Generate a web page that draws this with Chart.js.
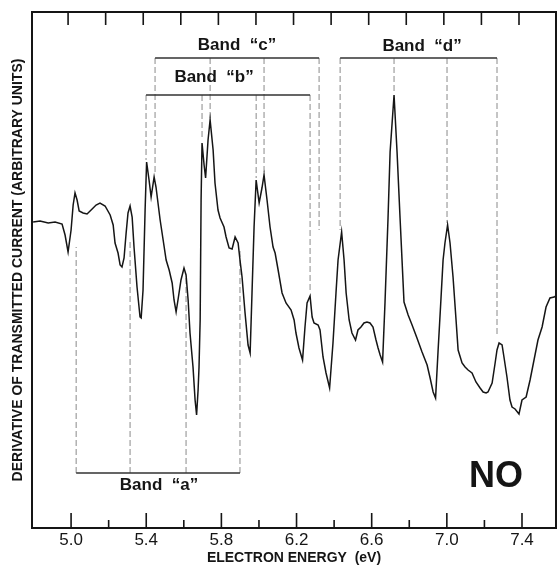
<!DOCTYPE html>
<html>
<head>
<meta charset="utf-8">
<script src="https://cdn.jsdelivr.net/npm/chart.js@4/dist/chart.umd.min.js"></script>
<style>
  html, body { margin: 0; padding: 0; background: #fff; }
</style>
</head>
<body>
<canvas id="noChart" width="557" height="565"></canvas>
<script>
// electron energy (eV) and derivative signal (arbitrary units)
const energy = [
  4.798, 4.835, 4.878, 4.915, 4.952, 4.968, 4.984, 5.000, 5.011, 5.021,
  5.032, 5.043, 5.064, 5.085, 5.112, 5.133, 5.154, 5.181, 5.208, 5.224,
  5.234, 5.250, 5.261, 5.271, 5.282, 5.293, 5.303, 5.314, 5.325, 5.335,
  5.351, 5.367, 5.373, 5.383, 5.394, 5.402, 5.415, 5.426, 5.442, 5.452,
  5.474, 5.490, 5.506, 5.522, 5.538, 5.548, 5.559, 5.569, 5.585, 5.601,
  5.612, 5.623, 5.633, 5.649, 5.660, 5.668, 5.676, 5.681, 5.687, 5.692,
  5.697, 5.708, 5.716, 5.729, 5.740, 5.756, 5.766, 5.782, 5.793, 5.814,
  5.825, 5.841, 5.857, 5.873, 5.889, 5.899, 5.910, 5.926, 5.942, 5.953,
  5.963, 5.974, 5.985, 6.001, 6.016, 6.027, 6.043, 6.059, 6.075, 6.086,
  6.102, 6.123, 6.144, 6.171, 6.187, 6.197, 6.213, 6.232, 6.245, 6.256,
  6.272, 6.283, 6.293, 6.315, 6.325, 6.341, 6.357, 6.376, 6.394, 6.410,
  6.421, 6.440, 6.453, 6.464, 6.480, 6.495, 6.514, 6.527, 6.543, 6.559,
  6.575, 6.591, 6.607, 6.623, 6.634, 6.645, 6.658, 6.671, 6.687, 6.698,
  6.719, 6.735, 6.751, 6.772, 6.794, 6.815, 6.841, 6.868, 6.895, 6.911,
  6.927, 6.940, 6.953, 6.969, 6.980, 6.990, 7.004, 7.017, 7.033, 7.049,
  7.060, 7.081, 7.097, 7.113, 7.134, 7.155, 7.177, 7.193, 7.209, 7.219,
  7.241, 7.257, 7.267, 7.278, 7.294, 7.304, 7.320, 7.336, 7.347, 7.363,
  7.384, 7.400, 7.422, 7.443, 7.464, 7.485, 7.507, 7.528, 7.549, 7.571,
  7.587
];
const signal = [
  306, 307, 305, 306, 304, 293, 276, 298, 323, 335,
  328, 317, 315, 314, 319, 323, 325, 322, 313, 303,
  285, 275, 263, 261, 270, 295, 315, 322, 311, 281,
  241, 211, 210, 238, 318, 366, 348, 331, 351, 341,
  308, 288, 268, 258, 245, 228, 216, 228, 248, 260,
  253, 228, 195, 161, 128, 113, 138, 161, 208, 328,
  385, 363, 350, 388, 408, 378, 345, 318, 310, 301,
  291, 280, 279, 291, 285, 268, 251, 215, 183, 175,
  235, 301, 348, 325, 340, 353, 328, 301, 281, 275,
  258, 235, 225, 218, 208, 195, 180, 168, 201, 225,
  232, 211, 205, 203, 198, 171, 155, 140, 185, 235,
  268, 296, 268, 235, 208, 195, 188, 198, 201, 205,
  206, 205, 201, 188, 180, 173, 166, 226, 310, 376,
  433, 376, 310, 226, 213, 203, 190, 176, 163, 150,
  136, 130, 176, 230, 268, 285, 303, 285, 251, 208,
  178, 165, 161, 158, 155, 146, 140, 136, 135, 136,
  145, 165, 178, 185, 183, 171, 151, 128, 121, 119,
  114, 128, 131, 148, 168, 188, 201, 221, 230, 231,
  233
];

const majorTicks = [5.0, 5.4, 5.8, 6.2, 6.6, 7.0, 7.4];
const minorTicks = [5.2, 5.6, 6.0, 6.4, 6.8, 7.2];
const topTicks = [5.0, 5.2, 5.4, 5.6, 5.8, 6.0, 6.2, 6.4, 6.6, 6.8, 7.0, 7.2, 7.4];

// band brackets: level of the bar, energies of the marks, how far each mark reaches
const bandNames = ['Band  \u201ca\u201d', 'Band  \u201cb\u201d', 'Band  \u201cc\u201d', 'Band  \u201cd\u201d'];
const bandLevel = [55, 433, 470, 470];
const bandMarks = [
  [5.027, 5.314, 5.612, 5.899],
  [5.399, 5.697, 5.985, 6.272],
  [5.447, 5.740, 6.027, 6.320],
  [6.432, 6.719, 7.001, 7.267]
];
const bandReach = [
  [281, 288, 251, 278],
  [368, 388, 350, 238],
  [353, 410, 355, 298],
  [298, 435, 305, 193]
];
const bandLabelE = [5.468, 5.761, 5.883, 6.868];
const bandLabelV = [43, 451, 483, 482];

const curve = energy.map((e, i) => ({ x: e, y: signal[i] }));

let bars = [], marks = [];
bandMarks.forEach((m, b) => {
  bars.push({ x: m[0], y: bandLevel[b] }, { x: m[m.length - 1], y: bandLevel[b] }, { x: m[m.length - 1], y: null });
  m.forEach((e, k) => {
    marks.push({ x: e, y: bandLevel[b] }, { x: e, y: bandReach[b][k] }, { x: e, y: null });
  });
});

const ink = '#151515';

const paperPlugin = {
  id: 'paper',
  afterDatasetsDraw(chart) {
    const { ctx, chartArea: a, scales: { x, y } } = chart;
    ctx.save();
    ctx.strokeStyle = ink;
    ctx.lineWidth = 2;
    ctx.strokeRect(a.left, a.top, a.right - a.left, a.bottom - a.top);

    // tick marks point inward
    ctx.lineWidth = 1.6;
    ctx.beginPath();
    majorTicks.forEach(v => {
      const px = x.getPixelForValue(v);
      ctx.moveTo(px, a.bottom); ctx.lineTo(px, a.bottom - 15);
    });
    minorTicks.forEach(v => {
      const px = x.getPixelForValue(v);
      ctx.moveTo(px, a.bottom); ctx.lineTo(px, a.bottom - 8);
    });
    topTicks.forEach(v => {
      const px = x.getPixelForValue(v) - 3;
      ctx.moveTo(px, a.top); ctx.lineTo(px, a.top + 13);
    });
    ctx.stroke();

    ctx.fillStyle = ink;
    ctx.textAlign = 'center';
    ctx.textBaseline = 'middle';
    ctx.font = 'bold 17px "Liberation Sans", Arial, sans-serif';
    bandNames.forEach((t, i) => {
      ctx.fillText(t, x.getPixelForValue(bandLabelE[i]), y.getPixelForValue(bandLabelV[i]));
    });
    ctx.font = 'bold 36px "Liberation Sans", Arial, sans-serif';
    ctx.fillText('NO', x.getPixelForValue(7.262), y.getPixelForValue(51));
    ctx.restore();
  }
};

new Chart(document.getElementById('noChart'), {
  type: 'line',
  data: {
    datasets: [
      {
        label: 'dI/dE',
        data: curve,
        borderColor: ink,
        borderWidth: 1.5,
        pointRadius: 0,
        tension: 0
      },
      {
        label: 'band bars',
        data: bars,
        borderColor: '#333',
        borderWidth: 1.3,
        pointRadius: 0,
        spanGaps: false
      },
      {
        label: 'band marks',
        data: marks,
        borderColor: '#8a8a8a',
        borderWidth: 1,
        borderDash: [6, 3],
        pointRadius: 0,
        spanGaps: false
      }
    ]
  },
  options: {
    responsive: false,
    animation: false,
    layout: { padding: { top: 12, right: 1, left: 0, bottom: 0 } },
    plugins: {
      legend: { display: false },
      tooltip: { enabled: false }
    },
    scales: {
      x: {
        type: 'linear',
        min: 4.792,
        max: 7.581,
        grid: { display: false, drawTicks: false },
        border: { display: false },
        afterBuildTicks: scale => { scale.ticks = majorTicks.map(v => ({ value: v })); },
        afterFit: scale => { scale.height = 37; },
        ticks: {
          autoSkip: false,
          maxRotation: 0,
          padding: 2,
          color: ink,
          font: { family: '"Liberation Sans", Arial, sans-serif', size: 17 },
          callback: v => Number(v).toFixed(1)
        },
        title: {
          display: true,
          text: 'ELECTRON ENERGY  (eV)',
          color: ink,
          padding: { top: 0, bottom: 0 },
          font: { family: '"Liberation Sans", Arial, sans-serif', size: 14, weight: 'bold', lineHeight: 1.0 }
        }
      },
      y: {
        type: 'linear',
        min: 0,
        max: 516,
        grid: { display: false, drawTicks: false },
        border: { display: false },
        ticks: { display: false },
        afterFit: scale => { scale.width = 32; },
        title: {
          display: true,
          text: 'DERIVATIVE OF TRANSMITTED CURRENT (ARBITRARY UNITS)',
          color: ink,
          padding: { top: 10, bottom: 0 },
          font: { family: '"Liberation Sans", Arial, sans-serif', size: 14, weight: 'bold' }
        }
      }
    }
  },
  plugins: [paperPlugin]
});
</script>
</body>
</html>
